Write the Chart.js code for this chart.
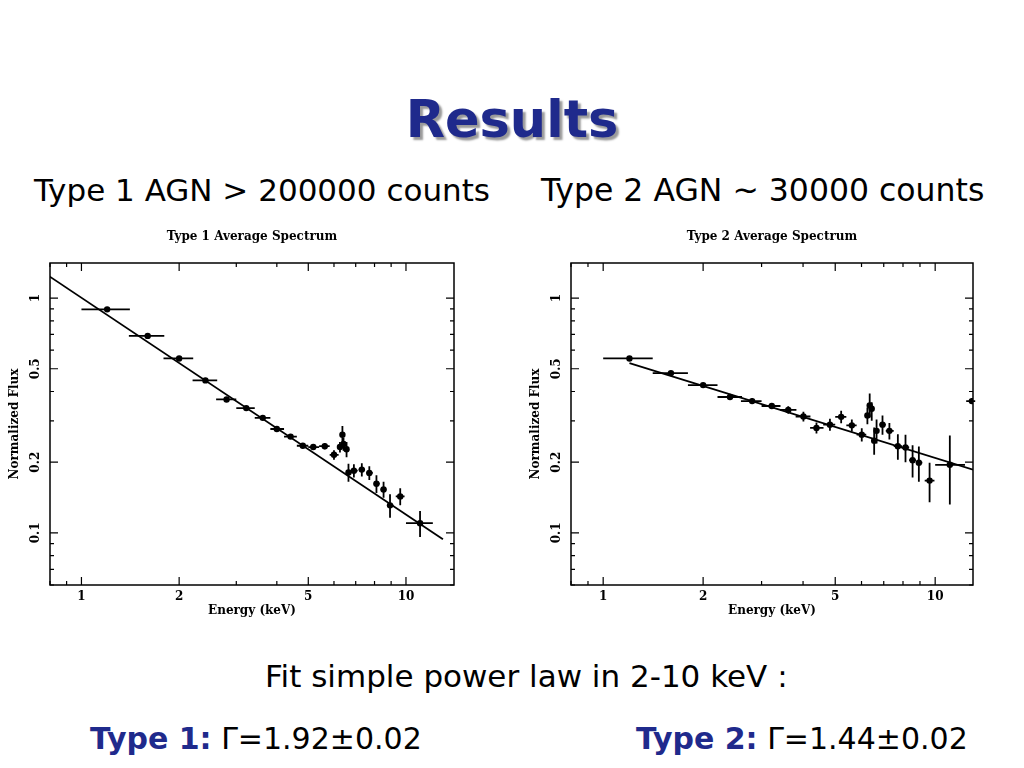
<!DOCTYPE html>
<html><head><meta charset="utf-8">
<script src="https://cdn.jsdelivr.net/npm/chart.js@4"></script>
<style>
body{margin:0;width:1024px;height:768px;background:#fff;position:relative;overflow:hidden;font-family:"DejaVu Sans",sans-serif}
.t{position:absolute;white-space:nowrap}
#title{left:0;width:1024px;top:90px;text-align:center;font:bold 51px "DejaVu Sans";color:#1f2a8c;text-shadow:3px 3px 2px #9a9a9a}
.sub{top:172px;font-size:31px;color:#000}
canvas{position:absolute}
</style></head><body>
<div id="title" class="t">Results</div>
<div class="t sub" style="left:34px">Type 1 AGN &gt; 200000 counts</div>
<div class="t sub" style="left:541px;font-size:31.5px">Type 2 AGN ~ 30000 counts</div>
<div class="t" style="left:265px;top:658px;font-size:31px">Fit simple power law in 2-10 keV :</div>
<div class="t" style="left:90px;top:721px;font-size:30px"><b style="color:#1f2a8c">Type 1:</b> Γ=1.92±0.02</div>
<div class="t" style="left:636px;top:721px;font-size:30px"><b style="color:#1f2a8c">Type 2:</b> Γ=1.44±0.02</div>
<div style="position:absolute;left:0;top:228px;width:470px;height:400px"><canvas id="c1"></canvas></div>
<div style="position:absolute;left:520px;top:228px;width:480px;height:400px"><canvas id="c2"></canvas></div>
<script>
// Type 1 data
const t1E   =[1.20,1.60,2.00,2.41,2.80,3.22,3.62,4.00,4.41,4.81,5.18,5.62,6.00,6.26,6.37,6.42,6.56,6.65,6.91,7.31,7.71,8.11,8.53,8.93,9.60,11.05];
const t1F   =[0.895,0.69,0.553,0.446,0.370,0.340,0.309,0.277,0.257,0.235,0.232,0.234,0.215,0.232,0.262,0.239,0.227,0.181,0.184,0.186,0.180,0.162,0.153,0.131,0.143,0.110];
const t1Elo =[1.00,1.40,1.79,2.20,2.60,3.00,3.42,3.82,4.21,4.61,5.00,5.40,5.82,6.20,6.32,6.38,6.50,6.58,6.80,7.15,7.55,7.95,8.35,8.75,9.30,10.0];
const t1Ehi =[1.41,1.80,2.21,2.62,3.00,3.42,3.82,4.21,4.61,5.00,5.40,5.82,6.20,6.32,6.42,6.50,6.62,6.80,7.10,7.48,7.90,8.30,8.70,9.15,9.90,12.1];
const t1Flo =[0.88,0.68,0.545,0.44,0.365,0.335,0.304,0.272,0.252,0.230,0.226,0.227,0.205,0.220,0.240,0.224,0.210,0.165,0.172,0.174,0.168,0.148,0.141,0.116,0.131,0.096];
const t1Fhi =[0.91,0.70,0.561,0.452,0.375,0.345,0.314,0.282,0.262,0.240,0.238,0.241,0.225,0.244,0.285,0.254,0.244,0.197,0.196,0.198,0.192,0.176,0.165,0.146,0.155,0.124];
const t1Line=[[0.797,1.236],[13.0,0.094]];
// Type 2 data
const t2E   =[1.20,1.60,2.00,2.41,2.81,3.22,3.61,4.01,4.39,4.82,5.21,5.61,6.01,6.25,6.35,6.44,6.55,6.66,6.94,7.28,7.72,8.14,8.55,8.93,9.62,11.07,12.9];
const t2F   =[0.553,0.479,0.426,0.379,0.364,0.347,0.334,0.313,0.280,0.289,0.312,0.287,0.262,0.316,0.349,0.338,0.247,0.272,0.289,0.272,0.234,0.231,0.204,0.199,0.167,0.195,0.364];
const t2Elo =[1.00,1.41,1.80,2.21,2.60,3.00,3.41,3.80,4.20,4.60,5.00,5.40,5.80,6.20,6.30,6.38,6.48,6.58,6.80,7.10,7.50,7.95,8.35,8.75,9.30,10.0,12.4];
const t2Ehi =[1.41,1.80,2.21,2.62,3.00,3.42,3.82,4.21,4.61,5.00,5.40,5.80,6.20,6.30,6.40,6.50,6.62,6.75,7.10,7.50,7.95,8.35,8.75,9.15,9.95,12.3,13.2];
const t2Flo =[0.545,0.470,0.418,0.370,0.354,0.337,0.322,0.298,0.265,0.272,0.293,0.270,0.245,0.290,0.310,0.300,0.215,0.240,0.262,0.250,0.205,0.200,0.172,0.165,0.135,0.132,0.354];
const t2Fhi =[0.561,0.488,0.434,0.388,0.374,0.357,0.346,0.328,0.295,0.306,0.331,0.304,0.279,0.342,0.392,0.360,0.281,0.304,0.316,0.294,0.263,0.262,0.236,0.233,0.199,0.260,0.374];
const t2Line=[[1.20,0.528],[13.0,0.186]];
const xLabels=[1,2,5,10], yLabels=[0.1,0.2,0.5,1];
const xMinor=[0.8,0.9,3,4,6,7,8,9,20], yMinor=[0.06,0.07,0.08,0.09,0.3,0.4,0.6,0.7,0.8,0.9];

function make(id,title,E,F,Elo,Ehi,Flo,Fhi,line,xmax,axW,axH,rpad){
  const serif='bold 12px "DejaVu Serif", serif';
  const plug={id:'eb',afterDatasetsDraw(ch){
    const c=ch.ctx,x=ch.scales.x,y=ch.scales.y,a=ch.chartArea;
    c.save();c.strokeStyle='#000';c.lineWidth=1.8;
    c.beginPath();
    for(let i=0;i<E.length;i++){
      const px=x.getPixelForValue(E[i]),py=y.getPixelForValue(F[i]);
      c.moveTo(x.getPixelForValue(Elo[i]),py);c.lineTo(x.getPixelForValue(Ehi[i]),py);
      c.moveTo(px,y.getPixelForValue(Flo[i]));c.lineTo(px,y.getPixelForValue(Fhi[i]));
    }
    c.stroke();
    c.lineWidth=1.5;c.strokeRect(a.left,a.top,a.right-a.left,a.bottom-a.top);
    c.lineWidth=1.2;c.beginPath();
    const tk=(v,len,isX)=>{
      if(isX){const p=x.getPixelForValue(v);if(p<a.left||p>a.right)return;
        c.moveTo(p,a.bottom);c.lineTo(p,a.bottom-len);c.moveTo(p,a.top);c.lineTo(p,a.top+len);}
      else{const p=y.getPixelForValue(v);if(p<a.top||p>a.bottom)return;
        c.moveTo(a.left,p);c.lineTo(a.left+len,p);c.moveTo(a.right,p);c.lineTo(a.right-len,p);}
    };
    xLabels.forEach(v=>tk(v,8,true));xMinor.forEach(v=>tk(v,4,true));
    yLabels.forEach(v=>tk(v,8,false));yMinor.forEach(v=>tk(v,4,false));
    c.stroke();
    c.fillStyle='#000';c.font=serif;c.textAlign='center';c.textBaseline='top';
    xLabels.forEach(v=>c.fillText(String(v),x.getPixelForValue(v),a.bottom+6));
    yLabels.forEach(v=>{c.save();c.translate(a.left-14,y.getPixelForValue(v));c.rotate(-Math.PI/2);c.textBaseline='middle';c.fillText(String(v),0,0);c.restore();});
    c.fillText('Energy (keV)',(a.left+a.right)/2,a.bottom+20);
    c.save();c.translate(a.left-35,(a.top+a.bottom)/2);c.rotate(-Math.PI/2);c.textBaseline='middle';c.fillText('Normalized Flux',0,0);c.restore();
    c.fillText(title,(a.left+a.right)/2,3);
    c.restore();
  }};
  return new Chart(document.getElementById(id),{
    type:'scatter',
    data:{datasets:[
      {data:E.map((e,i)=>({x:e,y:F[i]})),pointRadius:3.2,pointBackgroundColor:'#000',pointBorderWidth:0},
      {data:line.map(p=>({x:p[0],y:p[1]})),showLine:true,borderColor:'#000',borderWidth:1.8,pointRadius:0}
    ]},
    options:{responsive:true,maintainAspectRatio:false,animation:false,
      layout:{padding:{top:35,right:rpad,left:0,bottom:0}},
      plugins:{legend:{display:false},tooltip:{enabled:false}},
      scales:{
        x:{type:'logarithmic',min:0.8,max:xmax,grid:{display:false},border:{display:false},ticks:{display:false},afterFit(s){s.height=axH;}},
        y:{type:'logarithmic',min:0.06,max:1.41,grid:{display:false},border:{display:false},ticks:{display:false},afterFit(s){s.width=axW;}}
      }},
    plugins:[plug]
  });
}
make('c1','Type 1 Average Spectrum',t1E,t1F,t1Elo,t1Ehi,t1Flo,t1Fhi,t1Line,14.06,50,43,16);
make('c2','Type 2 Average Spectrum',t2E,t2F,t2Elo,t2Ehi,t2Flo,t2Fhi,t2Line,13.0,51,43,27);
</script></body></html>
